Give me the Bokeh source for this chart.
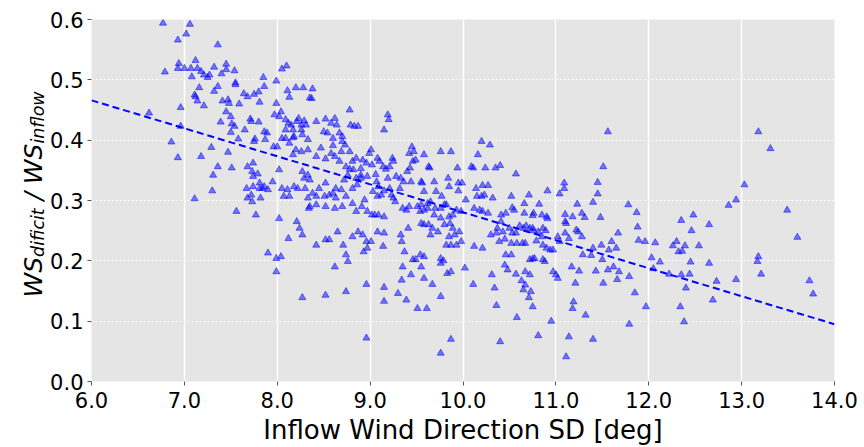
from bokeh.plotting import figure
from bokeh.layouts import row
from bokeh.models import Range1d, FixedTicker
from bokeh.core.properties import value
from bokeh.embed import file_html
from bokeh.resources import INLINE
import math

# ---- data (x: inflow wind direction SD [deg], y: WS deficit / WS inflow)
pts_a = [(6.77,0.594),(7.06,0.592),(6.93,0.566),(7.02,0.576),(7.36,0.558),(7.12,0.532),(6.94,0.527),
         (6.79,0.513),(6.93,0.519),(7.00,0.519),(7.07,0.519),(7.08,0.505),(7.14,0.519),(7.18,0.514),
         (7.21,0.508),(7.27,0.508),(7.25,0.504),(7.32,0.521),(7.40,0.510),(7.45,0.526),(7.45,0.517),
         (7.54,0.515),(7.55,0.495),(7.55,0.492),(7.16,0.487),(7.11,0.475),(7.12,0.472),(7.14,0.465),
         (7.21,0.457),(6.96,0.454),(7.36,0.489),(7.32,0.481),(7.41,0.465),(7.47,0.467),(7.48,0.461),
         (7.59,0.460),(7.45,0.447),(7.50,0.439),(7.51,0.427),(7.54,0.423),(7.50,0.413),(7.39,0.430),
         (7.64,0.477),(7.65,0.417),(7.58,0.402),(6.62,0.445),(6.96,0.423),(6.86,0.397),(6.93,0.371),
         (7.18,0.373),(7.29,0.388),(7.47,0.380),(7.36,0.356),(7.51,0.354),(7.31,0.342),(7.30,0.316),
         (7.11,0.303),(7.56,0.282)]
pts_b = [(8.05,0.518),(8.10,0.523),(7.85,0.504),(7.86,0.489),(7.99,0.498),(8.11,0.482),(8.13,0.471),
         (8.20,0.487),(8.28,0.487),(8.38,0.485),(8.35,0.470),(8.37,0.469),(7.68,0.472),(7.75,0.476),
         (7.80,0.480),(7.81,0.463),(7.71,0.435),(7.72,0.431),(7.80,0.430),(7.86,0.414),(7.89,0.412),
         (7.87,0.401),(7.76,0.402),(7.75,0.398),(7.97,0.442),(8.04,0.447),(8.02,0.439),(7.99,0.461),
         (8.09,0.434),(8.12,0.428),(8.15,0.425),(8.09,0.417),(8.17,0.417),(8.23,0.436),(8.21,0.431),
         (8.26,0.425),(8.29,0.432),(8.31,0.425),(8.26,0.417),(8.27,0.409),(8.18,0.406),(8.33,0.401),
         (8.42,0.431),(8.52,0.435),(8.58,0.428),(8.62,0.436),(8.64,0.425),(8.50,0.414),(8.54,0.412),
         (8.60,0.403),(8.67,0.412),(8.70,0.406),(8.78,0.450),(8.79,0.425),(8.83,0.423),(8.87,0.423),
         (8.70,0.398),(8.73,0.392),(7.96,0.389),(8.00,0.389),(8.05,0.403),(8.09,0.403),(8.17,0.404),
         (8.13,0.395),(8.20,0.384),(8.26,0.381),(8.17,0.376),(8.33,0.384),(8.42,0.373),(8.47,0.387),
         (8.52,0.369),(8.58,0.378),(8.60,0.391),(8.62,0.373),(8.67,0.365),(8.69,0.381),(8.78,0.381),
         (8.81,0.365),(8.74,0.356),(8.78,0.352),(8.82,0.351),(8.85,0.370),(8.90,0.353),(8.92,0.367),
         (8.96,0.362),(8.99,0.378),(9.01,0.384),(8.90,0.337),(8.85,0.337),(8.86,0.326),(8.97,0.340),
         (9.02,0.359),(7.68,0.356),(7.73,0.348),(7.74,0.340),(7.79,0.344),(7.74,0.362),(7.67,0.320),
         (7.72,0.309),(7.68,0.304),(7.73,0.298),(7.81,0.329),(7.81,0.320),(7.86,0.323),(7.90,0.318),
         (7.82,0.304),(7.95,0.331),(8.02,0.351),(8.05,0.320),(8.07,0.307),(8.11,0.318),(8.13,0.307),
         (8.18,0.323),(8.22,0.320),(8.27,0.348),(8.29,0.337),(8.33,0.342),(8.35,0.334),(8.30,0.320),
         (8.38,0.312),(8.33,0.304),(8.42,0.307),(8.45,0.320),(8.52,0.329),(8.51,0.307),(8.56,0.309),
         (8.60,0.312),(8.63,0.320),(8.69,0.318),(8.74,0.307),(8.81,0.320),(8.90,0.342),(8.76,0.342),
         (8.72,0.334),(8.81,0.295),(8.94,0.301),(8.63,0.304),(8.35,0.290),(8.42,0.293),(8.52,0.290),
         (8.62,0.287),(8.70,0.290),(8.85,0.282),(8.91,0.290),(8.97,0.282),(9.02,0.276),(7.77,0.276),
         (8.02,0.270),(8.12,0.237),(8.21,0.265),(8.24,0.254),(8.34,0.287),(8.27,0.243),(8.42,0.226),
         (8.52,0.235),(8.56,0.235),(8.65,0.248),(8.71,0.226),(8.74,0.210),(8.76,0.199),(8.81,0.240),
         (8.87,0.248),(8.92,0.243),(8.97,0.221),(8.93,0.215),(8.96,0.232),(9.01,0.232),(9.05,0.276),
         (7.90,0.213),(7.99,0.204),(8.04,0.207),(7.99,0.182),(8.62,0.190),(8.27,0.139),(8.52,0.143),
         (8.74,0.149),(8.96,0.161),(8.96,0.072),(7.74,0.323),(7.84,0.320)]
pts_c = [(9.19,0.442),(9.20,0.434),(9.15,0.417),(9.08,0.370),(9.10,0.365),(9.14,0.356),(9.17,0.352),
         (9.21,0.356),(9.24,0.370),(9.25,0.365),(9.19,0.337),(9.06,0.343),(9.07,0.331),(9.09,0.323),
         (9.03,0.315),(9.08,0.307),(9.12,0.309),(9.15,0.316),(9.21,0.320),(9.23,0.309),(9.25,0.304),
         (9.27,0.298),(9.28,0.340),(9.33,0.337),(9.36,0.331),(9.32,0.320),(9.40,0.348),(9.43,0.354),
         (9.46,0.365),(9.42,0.378),(9.45,0.389),(9.47,0.381),(9.49,0.367),(9.58,0.376),(9.63,0.356),
         (9.64,0.354),(9.44,0.331),(9.55,0.331),(9.56,0.329),(9.58,0.315),(9.69,0.331),(9.71,0.315),
         (9.65,0.298),(9.62,0.295),(9.70,0.287),(9.76,0.381),(9.87,0.381),(9.84,0.337),(9.85,0.323),
         (9.77,0.307),(9.82,0.293),(9.94,0.354),(9.95,0.329),(9.99,0.329),(9.95,0.316),(10.03,0.301),
         (10.09,0.356),(10.11,0.354),(10.16,0.376),(10.20,0.398),(10.29,0.392),(10.24,0.354),
         (10.35,0.354),(10.40,0.358),(10.14,0.320),(10.21,0.325),(10.27,0.325),(10.15,0.307),
         (10.20,0.307),(10.23,0.309),(10.32,0.304),(10.12,0.287),(10.18,0.284),(10.21,0.282),
         (10.27,0.279),(9.09,0.276),(9.15,0.273),(9.35,0.287),(9.39,0.284),(9.42,0.290),(9.51,0.290),
         (9.55,0.293),(9.54,0.282),(9.58,0.284),(9.62,0.287),(9.69,0.276),(9.76,0.287),(9.80,0.293),
         (9.85,0.273),(9.89,0.276),(9.93,0.284),(9.98,0.282),(9.08,0.248),(9.15,0.246),(9.14,0.224),
         (9.33,0.243),(9.34,0.232),(9.41,0.254),(9.55,0.262),(9.58,0.260),(9.63,0.260),(9.67,0.254),
         (9.65,0.243),(9.73,0.248),(9.76,0.271),(9.80,0.260),(9.86,0.262),(9.89,0.254),(9.85,0.240),
         (9.91,0.243),(9.93,0.226),(9.96,0.248),(9.98,0.232),(9.87,0.226),(9.82,0.226),(9.37,0.215),
         (9.46,0.202),(9.49,0.202),(9.54,0.210),(9.58,0.207),(9.55,0.190),(9.35,0.190),(9.34,0.168),
         (9.44,0.177),(9.58,0.171),(9.67,0.161),(9.76,0.204),(9.76,0.196),(9.79,0.200),(9.83,0.179),
         (9.87,0.182),(9.76,0.141),(10.02,0.188),(10.11,0.161),(10.21,0.221),(10.12,0.224),
         (10.30,0.243),(10.36,0.246),(10.31,0.177),(10.34,0.155),(10.36,0.126),(9.15,0.156),
         (9.15,0.133),(9.30,0.146),(9.39,0.135),(9.51,0.121),(9.61,0.121),(9.87,0.070),(9.76,0.047),
         (10.40,0.066)]
pts_d = [(10.57,0.344),(10.52,0.307),(10.53,0.288),(10.55,0.284),(10.46,0.279),(10.41,0.276),
         (10.71,0.309),(10.66,0.295),(10.82,0.294),(10.91,0.316),(11.04,0.311),(11.09,0.329),
         (11.09,0.320),(11.23,0.294),(11.28,0.279),(11.31,0.272),(11.10,0.277),(11.18,0.273),
         (11.10,0.265),(11.11,0.262),(11.51,0.356),(11.45,0.330),(11.45,0.311),(11.40,0.297),
         (11.48,0.272),(11.56,0.414),(10.66,0.279),(10.76,0.279),(10.75,0.275),(10.85,0.276),
         (10.90,0.273),(10.91,0.270),(10.41,0.265),(10.37,0.254),(10.43,0.248),(10.50,0.254),
         (10.53,0.246),(10.57,0.246),(10.61,0.258),(10.65,0.254),(10.68,0.258),(10.72,0.254),
         (10.75,0.254),(10.76,0.250),(10.81,0.248),(10.86,0.254),(10.89,0.250),(11.22,0.251),
         (11.24,0.248),(11.28,0.240),(11.10,0.246),(11.14,0.237),(11.02,0.240),(11.04,0.232),
         (10.39,0.232),(10.45,0.236),(10.52,0.229),(10.58,0.229),(10.64,0.229),(10.67,0.229),
         (10.79,0.233),(10.85,0.240),(10.86,0.226),(10.90,0.221),(10.94,0.218),(10.97,0.218),
         (10.72,0.202),(10.75,0.203),(10.77,0.204),(10.86,0.202),(10.88,0.199),(10.46,0.210),
         (10.52,0.210),(10.45,0.193),(10.48,0.185),(10.57,0.178),(10.67,0.182),(10.72,0.177),
         (10.97,0.182),(11.00,0.177),(11.02,0.171),(11.17,0.190),(11.25,0.183),(11.21,0.163),
         (11.29,0.210),(11.38,0.209),(11.40,0.221),(11.49,0.226),(11.50,0.202),(11.57,0.218),
         (11.60,0.232),(11.65,0.221),(11.67,0.246),(11.43,0.183),(11.51,0.163),(11.56,0.185),
         (11.62,0.190),(11.66,0.169),(11.68,0.182),(10.63,0.167),(10.67,0.160),(10.65,0.152),
         (10.73,0.149),(10.71,0.139),(10.75,0.124),(10.58,0.106),(11.19,0.132),(11.18,0.121),
         (11.32,0.110),(10.95,0.100),(10.81,0.076),(11.14,0.074),(11.40,0.070),(11.11,0.041)]
pts_e = [(11.78,0.293),(11.87,0.280),(11.88,0.256),(11.89,0.234),(11.96,0.232),(12.07,0.230),
         (12.03,0.205),(12.12,0.198),(12.05,0.187),(11.79,0.174),(11.85,0.147),(11.97,0.124),
         (11.79,0.095),(12.35,0.267),(12.48,0.276),(12.46,0.250),(12.30,0.232),(12.26,0.225),
         (12.32,0.215),(12.36,0.216),(12.39,0.225),(12.54,0.225),(12.65,0.260),(12.45,0.198),
         (12.65,0.196),(12.22,0.178),(12.35,0.177),(12.44,0.178),(12.40,0.155),(12.73,0.166),
         (12.69,0.135),(12.34,0.124),(12.38,0.099),(12.94,0.301),(12.86,0.292),(13.03,0.326),
         (12.94,0.169),(13.18,0.414),(13.31,0.386),(13.49,0.284),(13.60,0.239),(13.18,0.207),
         (13.17,0.199),(13.21,0.178),(13.73,0.167),(13.77,0.145)]

all_pts = pts_a + pts_b + pts_c + pts_d + pts_e
wind_sd = [p[0] for p in all_pts]
ws_ratio = [p[1] for p in all_pts]

# fitted trend line (end values)
fit_x = [6.0, 14.0]
fit_y = [0.466, 0.095]

x_ticks = [6, 7, 8, 9, 10, 11, 12, 13, 14]
x_tick_labels = ["6.0", "7.0", "8.0", "9.0", "10.0", "11.0", "12.0", "13.0", "14.0"]
y_ticks = [0.0, 0.1, 0.2, 0.3, 0.4, 0.5, 0.6]
y_tick_labels = ["0.0", "0.1", "0.2", "0.3", "0.4", "0.5", "0.6"]
x_title = "Inflow Wind Direction SD [deg]"
# y title: WS_dificit / WS_inflow  (text, is-subscript)
y_title_parts = [("WS", False), ("dificit", True), ("/", False), ("WS", False), ("inflow", True)]

FONT = "DejaVu Sans"
W, H = 864, 447
LBL_W = 45
TOP, BOTTOM = 19, 66

# ---------------- main plot ----------------
p = figure(width=W - LBL_W, height=H, output_backend="svg", toolbar_location=None,
           x_range=Range1d(6, 14), y_range=Range1d(0, 0.6),
           min_border_left=91 - LBL_W, min_border_right=30, min_border_top=TOP, min_border_bottom=BOTTOM)
p.background_fill_color = "#e5e5e5"
p.border_fill_color = "white"
p.outline_line_color = None

p.xgrid.grid_line_color = "white"
p.xgrid.grid_line_width = 1.5
p.ygrid.grid_line_color = "white"
p.ygrid.grid_line_width = 1
p.ygrid.grid_line_dash = "2 2"
p.ygrid.grid_line_alpha = 0.8

p.xaxis.ticker = FixedTicker(ticks=x_ticks)
p.yaxis.ticker = FixedTicker(ticks=y_ticks)
p.xaxis.major_label_overrides = {t: s for t, s in zip(x_ticks, x_tick_labels)}
p.yaxis.major_label_overrides = {t: s for t, s in zip(y_ticks, y_tick_labels)}
for ax in (p.xaxis, p.yaxis):
    ax.axis_line_color = None
    ax.major_tick_line_color = "#555555"
    ax.major_tick_out = 4
    ax.major_tick_in = 0
    ax.minor_tick_line_color = None
    ax.major_label_text_font = FONT
    ax.major_label_text_font_size = "21px"
    ax.major_label_text_color = "black"
p.xaxis.major_label_standoff = 6
p.yaxis.major_label_standoff = 4

p.xaxis.axis_label = x_title
p.xaxis.axis_label_text_font = FONT
p.xaxis.axis_label_text_font_size = "26px"
p.xaxis.axis_label_text_font_style = "normal"
p.xaxis.axis_label_text_color = "black"
p.xaxis.axis_label_standoff = 4

p.scatter(wind_sd, ws_ratio, marker="triangle", size=7,
          fill_color="blue", fill_alpha=0.5, line_color="blue", line_alpha=0.5)
p.line(fit_x, fit_y, line_color="blue", line_width=2, line_dash="7 4")

# ---------------- y title strip (rotated text with subscripts) ----------------
# frame of this strip spans the same pixel rows as the main frame; ranges are in page pixels
lf = figure(width=LBL_W, height=H, output_backend="svg", toolbar_location=None,
            x_range=Range1d(0, LBL_W), y_range=Range1d(H - (H - BOTTOM), H - TOP),
            x_axis_location=None, y_axis_location=None,
            min_border_left=0, min_border_right=0, min_border_top=TOP, min_border_bottom=BOTTOM)
lf.outline_line_color = None
lf.grid.visible = False
lf.background_fill_color = "white"
lf.border_fill_color = "white"

MAIN_FS, SUB_FS = 25.0, 17.5
adv = {"W": 0.989, "S": 0.635, "d": 0.635, "i": 0.278, "f": 0.352, "c": 0.550, "t": 0.392,
       "n": 0.634, "l": 0.278, "o": 0.612, "w": 0.818, "/": 0.337, " ": 0.318}
pos = 297.0  # page row where the title starts (bottom); text runs upward
for txt, is_sub in y_title_parts:
    fs = SUB_FS if is_sub else MAIN_FS
    if txt == "/":
        pos -= adv[" "] * MAIN_FS
    lf.text(x=[37.0 if is_sub else 33.0], y=[H - pos], text=[txt], angle=math.pi / 2,
            text_font=value(FONT), text_font_size=f"{fs}px", text_font_style="italic",
            text_color="black", text_align="left", text_baseline="alphabetic")
    pos -= sum(adv[ch] for ch in txt) * fs
    if txt == "/":
        pos -= adv[" "] * MAIN_FS

open("out.html", "w").write(file_html(row(lf, p), INLINE))
